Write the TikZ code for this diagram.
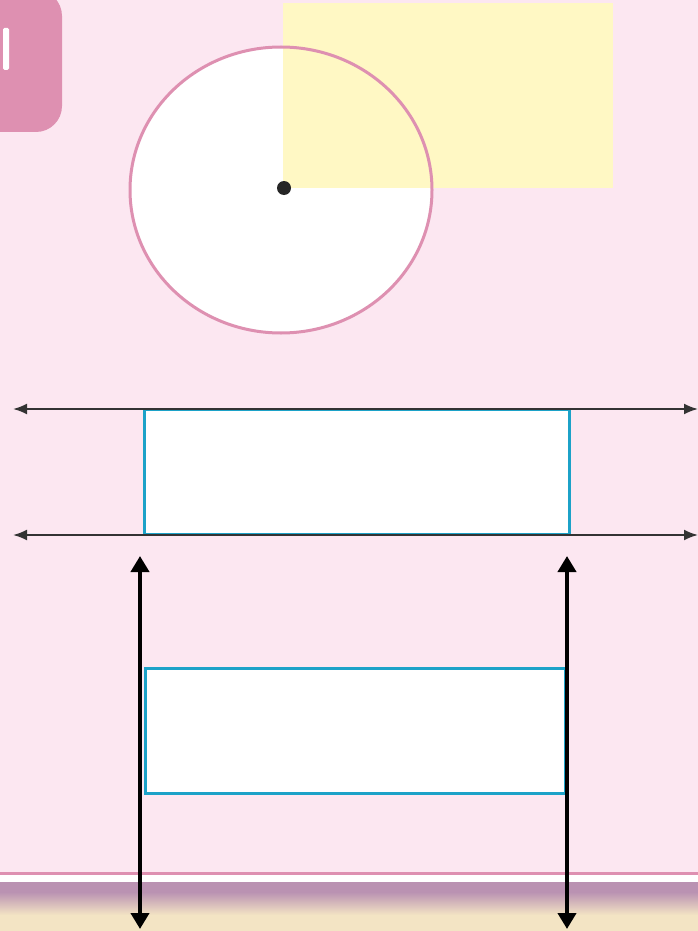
\documentclass[tikz,border=0pt]{standalone}
\usetikzlibrary{arrows.meta}
\definecolor{bgpink}{HTML}{FCE7F1}
\definecolor{badgepink}{HTML}{DE90B1}
\definecolor{lightyellow}{HTML}{FFF8C4}
\definecolor{boxblue}{HTML}{1CA2C8}
\definecolor{linegray}{HTML}{333333}
\definecolor{purplestrip}{HTML}{BA92B2}
\definecolor{beige}{HTML}{F3E4C4}
\tikzset{
  boxnode/.style={draw=boxblue, line width=3pt, fill=white, minimum width=425pt, minimum height=125pt, inner sep=0pt},
  harrow/.style={draw=linegray, line width=2pt, {Latex[length=14pt,width=11pt]}-{Latex[length=14pt,width=11pt]}},
  varrow/.style={draw=black, line width=4pt, {Triangle[length=16pt,width=18pt]}-{Triangle[length=16pt,width=18pt]}},
}
\begin{document}
\begin{tikzpicture}[x=1pt,y=-1pt]
\useasboundingbox (0,0) rectangle (698,931);
\clip (0,0) rectangle (698,931);
% background
\fill[bgpink] (0,0) rectangle (698,931);
% badge
\fill[badgepink, rounded corners=26pt] (-60,-10) rectangle (62,132);
\fill[white, rounded corners=1.5pt] (3,28) rectangle (9,70);
% circle with yellow rectangle
\fill[white] (281,190) ellipse [x radius=151, y radius=143];
\fill[lightyellow] (283,3) rectangle (613,188);
\draw[badgepink, line width=3pt] (281,190) ellipse [x radius=151, y radius=143];
\node[circle, fill=black!85, minimum size=14pt, inner sep=0pt] (dot) at (284,188) {};
% bottom strip
\fill[white] (0,875) rectangle (698,882);
\draw[badgepink, line width=3pt] (0,873) -- (698,873);
\fill[purplestrip] (0,882) rectangle (698,892);
\shade[top color=purplestrip, bottom color=beige] (0,892) rectangle (698,915);
\fill[beige] (0,915) rectangle (698,931);
% rectangles
\node[boxnode, minimum width=425pt] (r1) at (356.5,471.5) {};
\node[boxnode, minimum width=420pt] (r2) at (355,731) {};
% horizontal arrows
\coordinate (h1l) at (13,409);
\coordinate (h1r) at (698,409);
\coordinate (h2l) at (13,535);
\coordinate (h2r) at (698,535);
\draw[harrow] (h1l) -- (h1r);
\draw[harrow] (h2l) -- (h2r);
% vertical arrows
\coordinate (v1t) at (140,556);
\coordinate (v1b) at (140,929);
\coordinate (v2t) at (567,556);
\coordinate (v2b) at (567,929);
\draw[varrow] (v1t) -- (v1b);
\draw[varrow] (v2t) -- (v2b);
\end{tikzpicture}
\end{document}
